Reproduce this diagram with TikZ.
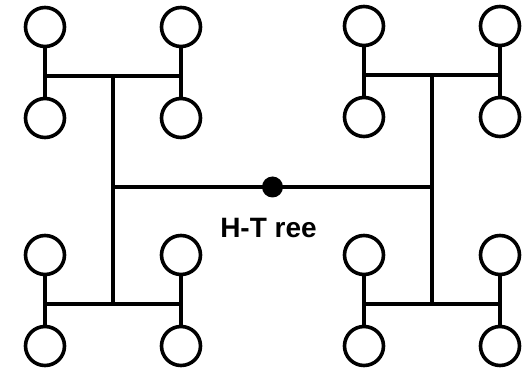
\documentclass[tikz,border=0pt]{standalone}
\usepackage{fontspec}
\setmainfont{Liberation Sans}
\usepackage{tikz}
\usetikzlibrary{positioning,calc}
\tikzset{
  leaf/.style={circle, draw=black, line width=3.6pt, minimum size=39pt,
               inner sep=0pt, fill=white},
  root/.style={circle, fill=black, minimum size=21pt, inner sep=0pt},
  wire/.style={line width=3.6pt, draw=black},
  lbl/.style={font=\fontsize{28}{30}\selectfont\bfseries, text=black, inner sep=0pt}
}
\begin{document}
\begin{tikzpicture}[x=1pt, y=-1pt]
  \useasboundingbox (0,0) rectangle (530,371);

  % the four small H's
  \foreach \q/\cx/\cy in {nw/113/76, ne/432/75, sw/113/304, se/432/304} {
    \coordinate (\q) at (\cx,\cy);
    \node[leaf] (\q-1) at (\cx-68,\cy-49) {};
    \node[leaf] (\q-2) at (\cx-68,\cy+42) {};
    \node[leaf] (\q-3) at (\cx+68,\cy-49) {};
    \node[leaf] (\q-4) at (\cx+68,\cy+42) {};
    \draw[wire] (\q-1) -- (\q-2);
    \draw[wire] (\q-3) -- (\q-4);
    \draw[wire] (\q-1 |- \q) -- (\q-3 |- \q);
  }

  % trunk
  \coordinate (mid) at (272.5,187);
  \draw[wire] (nw) -- (sw);
  \draw[wire] (ne) -- (se);
  \draw[wire] (nw |- mid) -- (ne |- mid);
  \node[root] (src) at (mid) {};
  \node[lbl, anchor=base] (title) at ([xshift=-4pt, yshift=-51pt]src) {H-T ree};
\end{tikzpicture}
\end{document}
